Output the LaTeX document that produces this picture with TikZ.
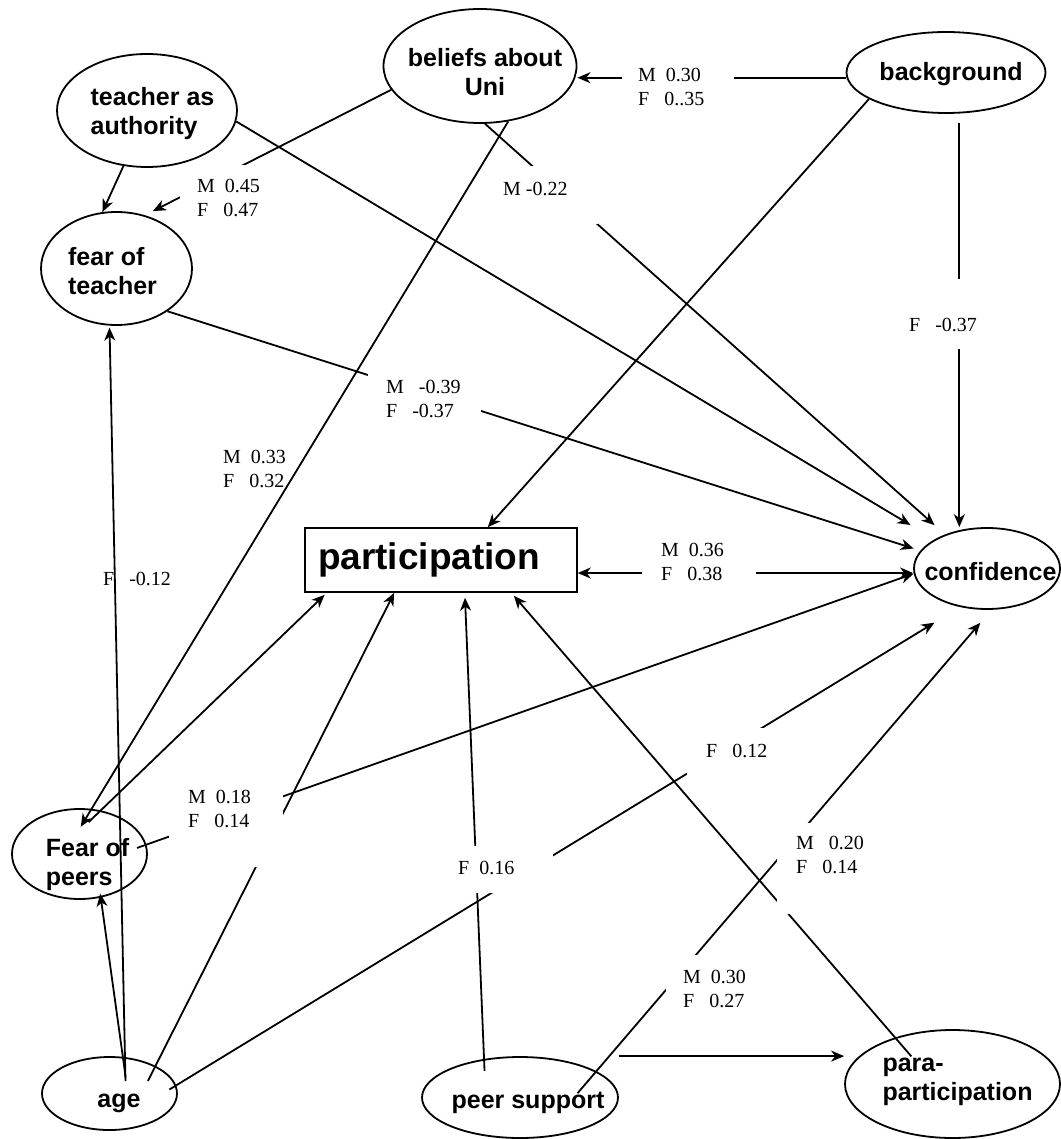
\documentclass[tikz,border=0pt]{standalone}
\usepackage{fontspec}
\setmainfont{Liberation Serif}
\setsansfont{Liberation Sans}
\usetikzlibrary{shapes.geometric,arrows.meta}

\tikzset{
  oval/.style={draw, ellipse, line width=1.8pt, inner sep=0pt},
  ovaltext/.style={font=\sffamily\bfseries\fontsize{25}{29}\selectfont, align=left, inner sep=0pt},
  partbox/.style={draw, line width=1.5pt, text width=246pt, inner xsep=13pt, inner ysep=0pt, minimum height=64pt, align=left, font=\sffamily\bfseries\fontsize{37}{40}\selectfont},
  coefbox/.style={fill=white, inner sep=0pt, anchor=north west},
  coef/.style={font=\fontsize{20}{24}\selectfont, align=left, inner sep=0pt, anchor=north west},
  arr/.style={line width=1.8pt, -{Stealth[length=13pt,width=11pt,inset=4pt]}},
  biarr/.style={line width=1.8pt, {Stealth[length=13pt,width=11pt,inset=4pt]}-{Stealth[length=13pt,width=11pt,inset=4pt]}},
}

\begin{document}
\begin{tikzpicture}[x=1pt,y=-1pt]
	\useasboundingbox (0,0) rectangle (1060,1139);
	
	% variables
	\node[oval, minimum width=180pt, minimum height=113pt, label={[ovaltext, xshift=5.5pt, yshift=-3.5pt]center:{teacher as\\authority}}] (ta) at (147,110.5) {};
	\node[oval, minimum width=151pt, minimum height=113pt, label={[ovaltext, xshift=-4pt, yshift=-2.5pt]center:{fear of\\teacher}}] (ft) at (116.5,268.5) {};
	\node[oval, minimum width=193pt, minimum height=114pt, label={[ovaltext, align=center, xshift=5pt, yshift=-6pt]center:{beliefs about\\Uni}}] (bel) at (480,66) {};
	\node[oval, minimum width=199pt, minimum height=81pt, label={[ovaltext, xshift=5pt, yshift=-1.5pt]center:background}] (bg) at (946,72.5) {};
	\node[partbox] (part) at (441,560) {participation};
	\node[oval, minimum width=146pt, minimum height=81pt, label={[ovaltext, xshift=3.5pt, yshift=-3pt]center:confidence}] (conf) at (987,568.5) {};
	\node[oval, minimum width=135pt, minimum height=90pt, label={[ovaltext, xshift=8pt, yshift=-11pt]center:{Fear of\\peers}}] (fp) at (79.5,854) {};
	\node[oval, minimum width=135pt, minimum height=73pt, label={[ovaltext, xshift=9.5pt, yshift=-9.5pt]center:age}] (age) at (109.5,1093.5) {};
	\node[oval, minimum width=196pt, minimum height=81pt, label={[ovaltext, xshift=8pt, yshift=-5.5pt]center:peer support}] (ps) at (520,1097.5) {};
	\node[oval, minimum width=215pt, minimum height=108pt, label={[ovaltext, xshift=5pt, yshift=2.5pt]center:{para-\\participation}}] (para) at (952.5,1084) {};
	
	% paths
	\draw[arr] (bg.183) -- (bg.183 -| bel.east);
	\draw[arr] (bg.199) -- (part.35);
	\draw[arr, shorten <=9pt] (bg.288) -- (bg.288 |- conf.north);
	\draw[arr] (ta.247) -- (ft.104);
	\draw[arr, shorten >=28pt] (ta.353) -- (conf.151);
	\draw[arr, shorten >=9pt] (bel.195) -- (ft.62);
	\draw[arr, shorten >=14pt] (bel.275) -- (conf.141);
	\draw[arr, shorten >=-21pt] (bel.297) -- (fp.75);
	\draw[arr, shorten >=7pt] (ft.320) -- (conf.165);
	\draw[arr, shorten <=-17pt, shorten >=3pt] (fp.64) -- (part.196);
	\draw[arr, shorten <=-10pt] (fp.8) -- (conf.184);
	\draw[arr, shorten <=-24pt, shorten >=2pt] (age.67) -- (ft.263);
	\draw[arr, shorten <=-20pt, shorten >=-4pt] (age.70) -- (fp.296);
	\draw[arr, shorten <=-17pt] (age.31) -- (part.215);
	\draw[arr, shorten <=-8pt, shorten >=30pt] (age.7) -- (conf.235);
	\draw[arr, shorten <=-12pt, shorten >=5pt] (ps.133) -- (part.306);
	\draw[arr, shorten <=-29pt, shorten >=17pt] (ps.19) -- (conf.276);
	\draw[arr] (ps.north -| ps.east) -- (ps.north -| para.west);
	\draw[arr, shorten <=-25pt, shorten >=4pt] (para.141) -- (part.335);
	\draw[biarr] ([yshift=-4.5pt]conf.west -| part.east) -- ([yshift=-4.5pt]conf.west);
	
	% coefficients
	\node[coefbox, minimum width=112pt, minimum height=52pt] (cBgBel) at (622,60) {};
	\node[coef] (tBgBel) at ([xshift=16pt,yshift=-8pt]cBgBel.north west) {M~~0.30\\F~~~0..35};
	\node[coefbox, minimum width=115pt, minimum height=60pt] (cBelFt) at (180,165) {};
	\node[coef] (tBelFt) at ([xshift=17pt,yshift=-14pt]cBelFt.north west) {M~~0.45\\F~~~0.47};
	\node[coefbox, minimum width=111pt, minimum height=58pt] (cBelConf) at (487,166) {};
	\node[coef] (tBelConf) at ([xshift=16pt,yshift=-16pt]cBelConf.north west) {M~-0.22};
	\node[coefbox, minimum width=113pt, minimum height=62pt] (cFtConf) at (368,366) {};
	\node[coef] (tFtConf) at ([xshift=18pt,yshift=-14pt]cFtConf.north west) {M~~~-0.39\\F~~~-0.37};
	\node[coefbox, minimum width=114pt, minimum height=60pt] (cPartConf) at (642,535) {};
	\node[coef] (tPartConf) at ([xshift=19pt,yshift=-8pt]cPartConf.north west) {M~~0.36\\F~~~0.38};
	\node[coefbox, minimum width=114pt, minimum height=87pt] (cFpConf) at (169,780) {};
	\node[coef] (tFpConf) at ([xshift=19pt,yshift=-10pt]cFpConf.north west) {M~~0.18\\F~~~0.14};
	\node[coefbox, minimum width=113pt, minimum height=47pt] (cPsPart) at (440,846) {};
	\node[coef] (tPsPart) at ([xshift=18pt,yshift=-15pt]cPsPart.north west) {F~~0.16};
	\node[coefbox, minimum width=113pt, minimum height=52pt] (cAgeConf) at (687,728) {};
	\node[coef] (tAgeConf) at ([xshift=19pt,yshift=-16pt]cAgeConf.north west) {F~~~0.12};
	\node[coefbox, minimum width=103pt, minimum height=91pt] (cPsConf) at (777,823) {};
	\node[coef] (tPsConf) at ([xshift=19pt,yshift=-13pt]cPsConf.north west) {M~~~0.20\\F~~~0.14};
	\node[coefbox, minimum width=104pt, minimum height=65pt] (cPsPara) at (666,955) {};
	\node[coef] (tPsPara) at ([xshift=17pt,yshift=-15pt]cPsPara.north west) {M~~0.30\\F~~~0.27};
	\node[coefbox, minimum width=99pt, minimum height=70pt] (cBgConf) at (891,279) {};
	\node[coef] (tBgConf) at ([xshift=18pt,yshift=-39pt]cBgConf.north west) {F~~~-0.37};
	\node[coef] (tBelFp) at (223,450) {M~~0.33\\F~~~0.32};
	\node[coef] (tAgeFt) at (103,572) {F~~~-0.12};
\end{tikzpicture}
\end{document}
